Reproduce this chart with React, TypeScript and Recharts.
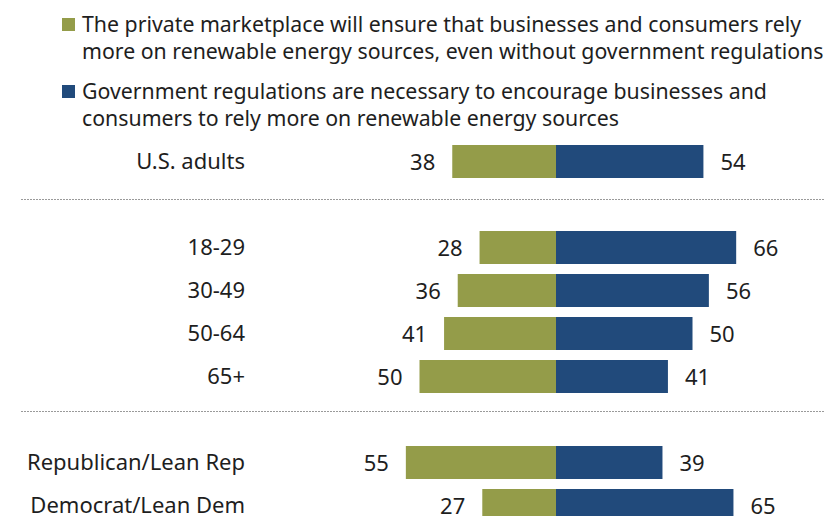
import React from 'react';
import {
  BarChart,
  Bar,
  XAxis,
  YAxis,
  LabelList,
  ReferenceLine,
} from 'recharts';

// Rows, with two blank rows used as group separators
const groups = ['U.S. adults', 'gap1', '18-29', '30-49', '50-64', '65+', 'gap2', 'Republican/Lean Rep', 'Democrat/Lean Dem'];
const privateMarket = [38, null, 28, 36, 41, 50, null, 55, 27];
const govRegulation = [54, null, 66, 56, 50, 41, null, 39, 65];

const legendPrivate = [
  'The private marketplace will ensure that businesses and consumers rely',
  'more on renewable energy sources, even without government regulations',
];
const legendGov = [
  'Government regulations are necessary to encourage businesses and',
  'consumers to rely more on renewable energy sources',
];

const GREEN = '#949c49';
const BLUE = '#214a7b';
const FONT = '"Noto Sans", sans-serif';
const TEXT = '#1e1e1e';

const dados = groups.map((name, i) => ({
  name,
  privado: privateMarket[i] == null ? null : -(privateMarket[i] as number),
  governo: govRegulation[i],
}));

const renderValue = (side: 'left' | 'right') => (props: any) => {
  const { x, y, width, height, value } = props;
  if (value == null) return null;
  const left = Math.min(x, x + width);
  const right = Math.max(x, x + width);
  return (
    <text
      x={side === 'left' ? left - 17 : right + 17}
      y={y + height / 2}
      dy="0.38em"
      textAnchor={side === 'left' ? 'end' : 'start'}
      fontFamily={FONT}
      fontSize={22}
      fill={TEXT}
    >
      {Math.abs(value)}
    </text>
  );
};

const separador = (shift: number) => (props: any) => (
  <line
    x1={21}
    x2={825}
    y1={props.y1 + shift}
    y2={props.y2 + shift}
    stroke="#9a9a9a"
    strokeWidth={1}
    strokeDasharray="2 1"
  />
);

const LegendItem = ({ color, lines, top }: { color: string; lines: string[]; top: number }) => (
  <div style={{ position: 'absolute', left: 62, top, display: 'flex', alignItems: 'flex-start' }}>
    <div style={{ width: 13, height: 13, background: color, marginTop: 8, marginRight: 7 }} />
    <div style={{ fontFamily: FONT, fontSize: 21.3, lineHeight: '27px', color: TEXT, whiteSpace: 'nowrap' }}>
      {lines.map((l, i) => (
        <div key={i}>{l}</div>
      ))}
    </div>
  </div>
);

export default function App() {
  return (
    <div
      style={{
        position: 'absolute',
        left: 0,
        top: 0,
        width: 825,
        height: 516,
        overflow: 'hidden',
        background: '#fff',
      }}
    >
      <LegendItem color={GREEN} lines={legendPrivate} top={10} />
      <LegendItem color={BLUE} lines={legendGov} top={77} />
      <div style={{ position: 'absolute', left: 0, top: 0 }}>
        <BarChart
          width={825}
          height={530}
          data={dados}
          layout="vertical"
          stackOffset="sign"
          margin={{ top: 140, right: 50.6, left: 0, bottom: 3 }}
        >
          <XAxis type="number" domain={[-80, 80]} hide />
          <YAxis
            type="category"
            dataKey="name"
            width={337.6}
            axisLine={false}
            tickLine={false}
            tickSize={0}
            tickMargin={92.6}
            interval={0}
            tickFormatter={(v: string) => (v.startsWith('gap') ? '' : v)}
            tick={{ fill: TEXT, fontSize: 22, fontFamily: FONT }}
          />
          <ReferenceLine y="gap1" shape={separador(-5)} />
          <ReferenceLine y="gap2" shape={separador(-8)} />
          <Bar dataKey="privado" stackId="s" fill={GREEN} barSize={33} isAnimationActive={false}>
            <LabelList dataKey="privado" content={renderValue('left')} />
          </Bar>
          <Bar dataKey="governo" stackId="s" fill={BLUE} barSize={33} isAnimationActive={false}>
            <LabelList dataKey="governo" content={renderValue('right')} />
          </Bar>
        </BarChart>
      </div>
    </div>
  );
}
